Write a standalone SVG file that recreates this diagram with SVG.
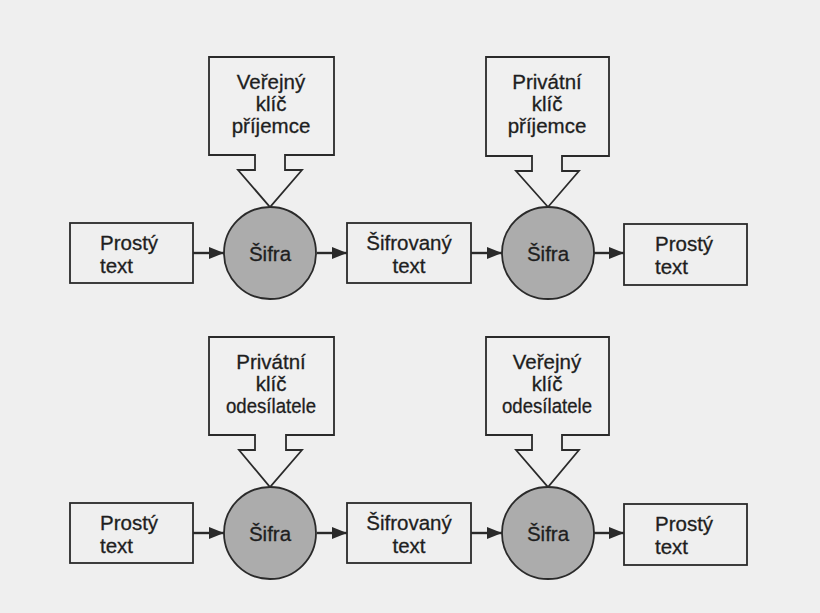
<svg xmlns="http://www.w3.org/2000/svg" width="820" height="613" viewBox="0 0 820 613">
  <defs>
    <style>
      .box { fill: none; stroke: #2a2a2a; stroke-width: 1.8; }
      .key { fill: #f0f0f0; stroke: #2a2a2a; stroke-width: 1.8; stroke-linejoin: miter; }
      .cipher { fill: #acacac; stroke: #2a2a2a; stroke-width: 1.8; }
      .flow { stroke: #2a2a2a; stroke-width: 2.4; fill: none; }
      text { font-family: "Liberation Sans", Arial, sans-serif; font-size: 20.5px; fill: #1e1e1e; stroke: #1e1e1e; stroke-width: 0.3; }
      .c { text-anchor: middle; }
    </style>
    <marker id="arrow" viewBox="0 0 15 12" refX="15" refY="6" markerWidth="15" markerHeight="12" markerUnits="userSpaceOnUse" orient="auto">
      <path d="M0,0 L15,6 L0,12 Z" fill="#2a2a2a"/>
    </marker>
  </defs>

  <rect width="820" height="613" fill="#efefef"/>

  <!-- connectors -->
  <g id="connectors">
    <line class="flow" x1="193" y1="253" x2="224" y2="253" marker-end="url(#arrow)"/>
    <line class="flow" x1="317" y1="253" x2="347" y2="253" marker-end="url(#arrow)"/>
    <line class="flow" x1="471" y1="253" x2="502" y2="253" marker-end="url(#arrow)"/>
    <line class="flow" x1="594" y1="253" x2="624" y2="253" marker-end="url(#arrow)"/>
    <line class="flow" x1="193" y1="533" x2="224" y2="533" marker-end="url(#arrow)"/>
    <line class="flow" x1="317" y1="533" x2="347" y2="533" marker-end="url(#arrow)"/>
    <line class="flow" x1="471" y1="533" x2="502" y2="533" marker-end="url(#arrow)"/>
    <line class="flow" x1="594" y1="533" x2="624" y2="533" marker-end="url(#arrow)"/>
  </g>

  <!-- top row: encryption with the recipient's public key -->
  <g id="plain1">
    <rect class="box" x="70" y="223" width="123" height="60"/>
    <text x="100" y="250">Prostý</text>
    <text x="100" y="273">text</text>
  </g>
  <g id="key1">
    <path class="key" d="M209,57 H334 V155 H285 V170 H302 L270,207 L238,170 H255 V155 H209 Z"/>
    <text class="c" x="271" y="89">Veřejný</text>
    <text class="c" x="271" y="111">klíč</text>
    <text class="c" x="271" y="133">příjemce</text>
  </g>
  <g id="cipher1">
    <circle class="cipher" cx="270" cy="253" r="46"/>
    <text class="c" x="270" y="261">Šifra</text>
  </g>
  <g id="encrypted1">
    <rect class="box" x="347" y="223" width="124" height="60"/>
    <text class="c" x="409" y="250">Šifrovaný</text>
    <text class="c" x="409" y="273">text</text>
  </g>
  <g id="key2">
    <path class="key" d="M486,57 H609 V156 H562 V171 H579 L548,207 L516,171 H532 V156 H486 Z"/>
    <text class="c" x="547" y="89">Privátní</text>
    <text class="c" x="547" y="111">klíč</text>
    <text class="c" x="547" y="133">příjemce</text>
  </g>
  <g id="cipher2">
    <circle class="cipher" cx="548" cy="253" r="46"/>
    <text class="c" x="548" y="261">Šifra</text>
  </g>
  <g id="plain2">
    <rect class="box" x="624" y="224" width="123" height="61"/>
    <text x="655" y="251">Prostý</text>
    <text x="655" y="274">text</text>
  </g>

  <!-- bottom row: signing with the sender's private key -->
  <g id="plain3">
    <rect class="box" x="70" y="503" width="123" height="60"/>
    <text x="100" y="530">Prostý</text>
    <text x="100" y="553">text</text>
  </g>
  <g id="key3">
    <path class="key" d="M209,337 H334 V435 H286 V450 H302 L270,487 L239,450 H255 V435 H209 Z"/>
    <text class="c" x="271" y="369">Privátní</text>
    <text class="c" x="271" y="391">klíč</text>
    <text class="c" x="271" y="413" textLength="90" lengthAdjust="spacingAndGlyphs">odesílatele</text>
  </g>
  <g id="cipher3">
    <circle class="cipher" cx="270" cy="533" r="46"/>
    <text class="c" x="270" y="541">Šifra</text>
  </g>
  <g id="encrypted2">
    <rect class="box" x="347" y="503" width="124" height="60"/>
    <text class="c" x="409" y="530">Šifrovaný</text>
    <text class="c" x="409" y="553">text</text>
  </g>
  <g id="key4">
    <path class="key" d="M486,337 H609 V435 H562 V450 H579 L548,487 L516,450 H532 V435 H486 Z"/>
    <text class="c" x="547" y="369">Veřejný</text>
    <text class="c" x="547" y="391">klíč</text>
    <text class="c" x="547" y="413" textLength="90" lengthAdjust="spacingAndGlyphs">odesílatele</text>
  </g>
  <g id="cipher4">
    <circle class="cipher" cx="548" cy="533" r="46"/>
    <text class="c" x="548" y="541">Šifra</text>
  </g>
  <g id="plain4">
    <rect class="box" x="624" y="504" width="123" height="61"/>
    <text x="655" y="531">Prostý</text>
    <text x="655" y="554">text</text>
  </g>
</svg>
